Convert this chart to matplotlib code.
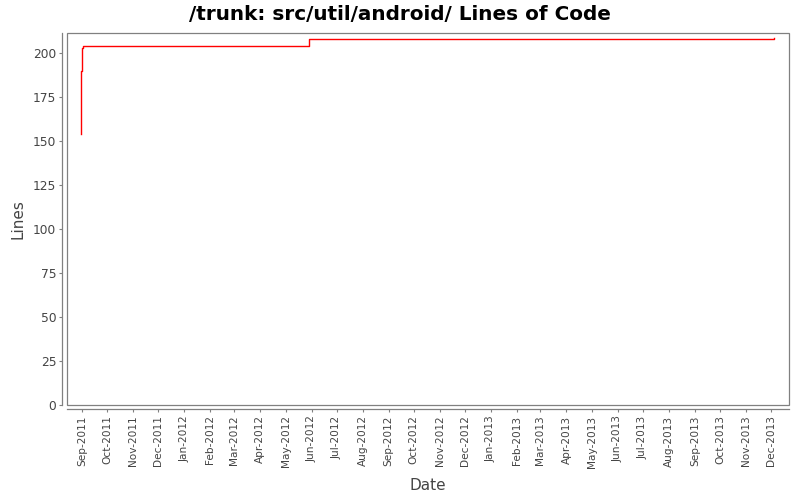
import matplotlib
matplotlib.use("Agg")
import matplotlib.pyplot as plt
import matplotlib.dates as mdates
from matplotlib.patches import Rectangle
import pandas as pd

dates = ["2011-08-31", "2011-08-31", "2011-09-01", "2011-09-02", "2012-05-29", "2013-12-05"]
lines = [154, 190, 203, 204, 208, 209]
title = "/trunk: src/util/android/ Lines of Code"

x = pd.to_datetime(dates)

fig = plt.figure(figsize=(8, 5), dpi=100)
ax = fig.add_axes([66.7 / 800, 95 / 500, (788.7 - 66.7) / 800, (405 - 33.3) / 500])

ax.plot(x, lines, color="red", linewidth=1.0, drawstyle="steps-post")

ax.set_xlim(pd.Timestamp("2011-08-14"), pd.Timestamp("2013-12-22"))
ax.set_ylim(0, 211.4)
ax.set_yticks([0, 25, 50, 75, 100, 125, 150, 175, 200])

ax.xaxis.set_major_locator(mdates.MonthLocator())
ax.xaxis.set_major_formatter(mdates.DateFormatter("%b-%Y"))

grey = "#808080"
for s in ["top", "right"]:
    ax.spines[s].set_visible(False)
for s in ["left", "bottom"]:
    ax.spines[s].set_position(("outward", 3.2))
    ax.spines[s].set_color(grey)
    ax.spines[s].set_linewidth(0.9)

ax.add_patch(Rectangle((0, 0), 1, 1, transform=ax.transAxes, fill=False,
                       edgecolor=grey, linewidth=0.9, clip_on=False, zorder=0))

ax.tick_params(axis="both", colors=grey, labelcolor="#444444", length=2.3, width=0.8, pad=2)
ax.tick_params(axis="y", labelsize=8.8)
ax.tick_params(axis="x", labelrotation=90, labelsize=7.6)

ax.set_xlabel("Date", fontsize=11, color="#444444")
ax.set_ylabel("Lines", fontsize=11, color="#444444")
ax.xaxis.set_label_coords(0.5, -0.196)
ax.yaxis.set_label_coords(-0.0564, 0.5)
fig.suptitle(title, fontsize=14.4, fontweight="bold", y=0.991, va="top")

fig.savefig("out.png", dpi=100)
